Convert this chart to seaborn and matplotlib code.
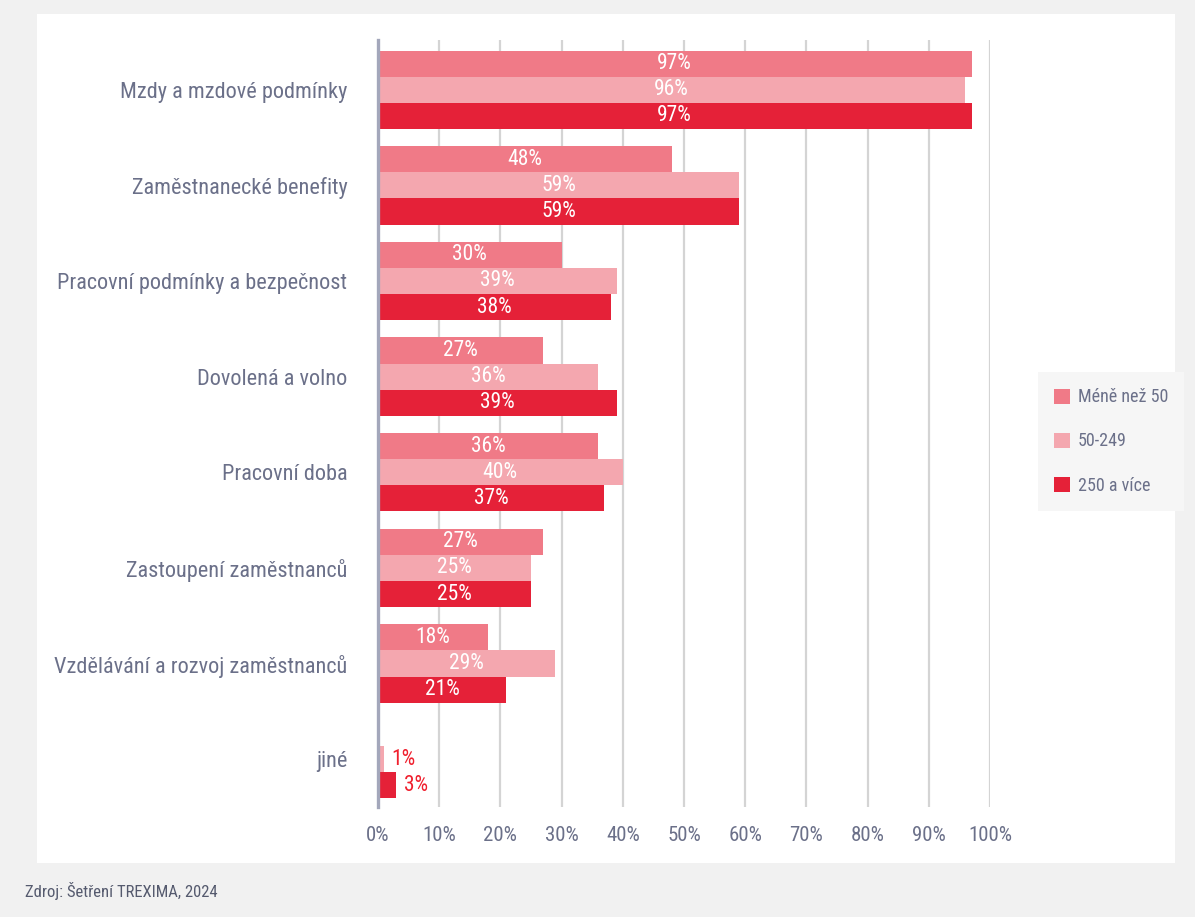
import matplotlib
matplotlib.use("Agg")
import matplotlib.pyplot as plt
from matplotlib.patches import Rectangle
import seaborn as sns
import pandas as pd

# data
categories = [
    "Mzdy a mzdové podmínky",
    "Zaměstnanecké benefity",
    "Pracovní podmínky a bezpečnost",
    "Dovolená a volno",
    "Pracovní doba",
    "Zastoupení zaměstnanců",
    "Vzdělávání a rozvoj zaměstnanců",
    "jiné",
]
groups = ["Méně než 50", "50-249", "250 a více"]
small = [97, 48, 30, 27, 36, 27, 18, 0]
medium = [96, 59, 39, 36, 40, 25, 29, 1]
large = [97, 59, 38, 39, 37, 25, 21, 3]
xticks = [0, 10, 20, 30, 40, 50, 60, 70, 80, 90, 100]

colors = ["#f07a87", "#f4a7af", "#e52138"]
text_col = "#6b7089"

rows = []
for g, vals in zip(groups, [small, medium, large]):
    for c, v in zip(categories, vals):
        rows.append({"kategorie": c, "skupina": g, "podil": v})
df = pd.DataFrame(rows)

sns.set_style("white")
plt.rcParams["font.family"] = ["Roboto Condensed", "Liberation Sans Narrow", "Roboto", "DejaVu Sans"]

fig = plt.figure(figsize=(11.95, 9.17), dpi=100)
fig.patch.set_facecolor("#f1f1f1")
fig.patches.append(Rectangle((0.031, 0.059), 0.952, 0.926, transform=fig.transFigure,
                             facecolor="white", edgecolor="none", zorder=-10))

ax = fig.add_axes([0.3163, 0.12, 0.5121, 0.8364])
ax.set_facecolor("none")
sns.barplot(data=df, x="podil", y="kategorie", hue="skupina", orient="h",
            palette=colors, saturation=1, width=0.82, ax=ax, zorder=3, linewidth=0)

ax.set_xlim(0, 100)
ax.set_ylim(7.5, -0.52)
ax.set_xticks(xticks)
ax.set_xticklabels([f"{t}%" for t in xticks])
ax.set_xlabel("")
ax.set_ylabel("")
ax.xaxis.grid(True, color="#d4d4d4", linewidth=1.6, zorder=0)
ax.yaxis.grid(False)
ax.set_axisbelow(True)
for s in ["top", "right", "bottom"]:
    ax.spines[s].set_visible(False)
ax.spines["left"].set_color("#a3a7bb")
ax.spines["left"].set_linewidth(2.4)
ax.spines["left"].set_zorder(5)
ax.tick_params(axis="y", length=0, pad=22, labelsize=16, labelcolor=text_col)
ax.tick_params(axis="x", length=0, pad=14, labelsize=15, labelcolor=text_col)

# value labels
for cont in ax.containers:
    for bar in cont:
        w = bar.get_width()
        if w <= 0:
            continue
        y = bar.get_y() + bar.get_height() / 2
        if w >= 10:
            ax.text(w / 2, y, f"{w:.0f}%", ha="center", va="center",
                    color="white", fontsize=15.5, zorder=6)
        else:
            ax.text(w + 1.2, y, f"{w:.0f}%", ha="left", va="center",
                    color="#f0202e", fontsize=15.5, zorder=6)

handles, labels = ax.get_legend_handles_labels()
leg = ax.legend(handles, labels, loc="upper left", bbox_to_anchor=(0.8686, 0.5943),
                bbox_transform=fig.transFigure, frameon=True, fancybox=False,
                facecolor="#f6f6f6", edgecolor="none", framealpha=1, borderaxespad=0,
                fontsize=13, labelcolor=text_col, handlelength=0.9, handleheight=0.9,
                handletextpad=0.4, labelspacing=1.45, borderpad=0.9)

fig.text(0.021, 0.018, "Zdroj: Šetření TREXIMA, 2024", fontsize=12, color="#555a6e",
         ha="left", va="bottom")

fig.savefig("out.png", dpi=100, facecolor=fig.get_facecolor())
